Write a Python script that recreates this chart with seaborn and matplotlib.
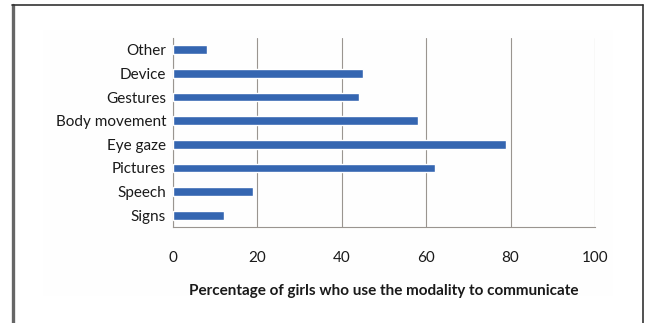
import matplotlib
matplotlib.use("Agg")
import matplotlib.pyplot as plt
from matplotlib.lines import Line2D
from matplotlib.patches import Rectangle
import seaborn as sns
import pandas as pd

categories = ["Other", "Device", "Gestures", "Body movement",
              "Eye gaze", "Pictures", "Speech", "Signs"]
percentages = [8, 45, 44, 58, 79, 62, 19, 12]
x_ticks = [0, 20, 40, 60, 80, 100]
x_label = "Percentage of girls who use the modality to communicate"

df = pd.DataFrame({"modality": categories, "pct": percentages})

sns.set_theme(style="white")
plt.rcParams["font.family"] = ["Lato", "DejaVu Sans"]

fig = plt.figure(figsize=(6.45, 3.23), dpi=100)
fig.patch.set_facecolor("white")

# faint chart-area background
fig.add_artist(Rectangle((43 / 645, 1 - 296 / 323), (613 - 43) / 645, (296 - 30) / 323,
                         transform=fig.transFigure, facecolor="#fefefe",
                         edgecolor="none", zorder=0))

ax = fig.add_axes([173 / 645, 1 - 227 / 323, (595 - 173) / 645, (227 - 38) / 323])
ax.set_facecolor("none")

sns.barplot(data=df, x="pct", y="modality", order=categories, orient="h",
            color="#3566b1", width=0.37, saturation=1, ax=ax, zorder=3)

grid_col = "#9a9590"
ax.set_xlim(0, 100)
ax.set_ylim(len(categories) - 0.5, -0.5)
ax.set_xticks(x_ticks)
ax.set_xticklabels([str(t) for t in x_ticks])
ax.xaxis.grid(True, color=grid_col, linewidth=0.8)
ax.set_axisbelow(True)

for side in ["top", "right"]:
    ax.spines[side].set_visible(False)
for side in ["left", "bottom"]:
    ax.spines[side].set_color(grid_col)
    ax.spines[side].set_linewidth(0.8)

# category-boundary ticks on the y axis
ax.set_yticks([i - 0.5 for i in range(len(categories) + 1)], minor=True)
ax.tick_params(axis="y", which="major", length=0, pad=5, labelsize=11, labelcolor="#1a1a1a")
ax.tick_params(axis="y", which="minor", length=4, color=grid_col, width=0.8, direction="out")
ax.tick_params(axis="x", which="major", length=4, color=grid_col, width=0.8,
               direction="out", pad=13, labelsize=11, labelcolor="#1a1a1a")

ax.set_ylabel("")
ax.set_xlabel(x_label, fontsize=11, fontweight="bold", color="#1a1a1a", labelpad=14)

# outer frame
fig.add_artist(Line2D([13 / 645, 13 / 645], [0, 1 - 4.5 / 323], transform=fig.transFigure,
                      color="#666666", linewidth=2.4))
fig.add_artist(Line2D([12 / 645, 643 / 645], [1 - 4.5 / 323, 1 - 4.5 / 323],
                      transform=fig.transFigure, color="#333333", linewidth=1.2))
fig.add_artist(Line2D([643 / 645, 643 / 645], [0, 1 - 4.5 / 323], transform=fig.transFigure,
                      color="#333333", linewidth=1.2))

fig.savefig("out.png", dpi=100)
